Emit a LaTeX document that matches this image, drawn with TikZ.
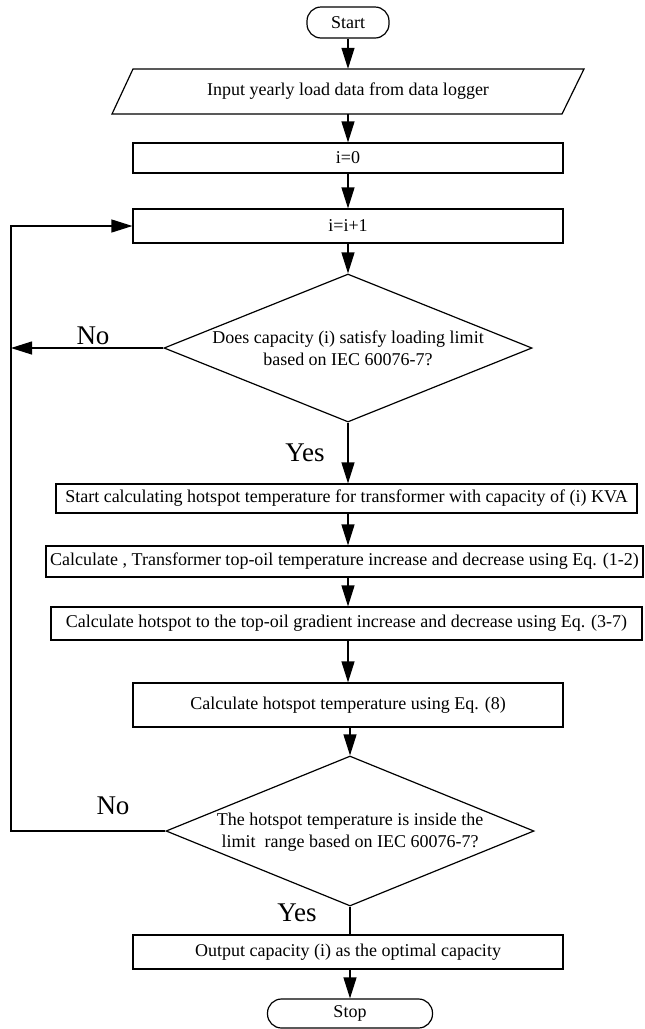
\documentclass[tikz,border=0pt]{standalone}
\usepackage{fontspec}
\setmainfont{Liberation Serif}
\usetikzlibrary{arrows.meta,shapes.geometric,calc}
\begin{document}
\begin{tikzpicture}[x=1pt,y=-1pt,
  every node/.style={font=\fontsize{18}{22}\selectfont},
  box/.style={draw, line width=1.2pt, inner sep=0pt, align=center},
  term/.style={draw, line width=1.2pt, rounded corners=14pt, inner sep=0pt},
  dia/.style={draw, diamond, line width=1.2pt, inner sep=0pt},
  arr/.style={line width=1.2pt, -{Triangle[length=21pt,width=13pt]}},
  ln/.style={line width=1.2pt},
  lbl/.style={font=\fontsize{27}{30}\selectfont, inner sep=0pt}]
\useasboundingbox (0,0) rectangle (645,1029);

\coordinate (L) at (11,0);

\node[term, minimum width=82pt, minimum height=31pt] (start) at (348,22.5) {Start};
\node[inner sep=0pt, minimum width=430pt, minimum height=45pt] (in) at (348,91.5) {Input yearly load data from data logger};
\draw[ln] ($(in.center)+(-215,-22.5)$) -- ($(in.center)+(236,-22.5)$) -- ($(in.center)+(214,22.5)$) -- ($(in.center)+(-236,22.5)$) -- cycle;
\node[box, minimum width=430pt, minimum height=30pt] (i0) at (348,158) {i=0};
\node[box, minimum width=430pt, minimum height=34pt] (inc) at (348,226) {i=i+1};
\node[dia, minimum width=368pt, minimum height=148pt] (d1) at (348,348) {};
\node[align=center, inner sep=0pt] (d1t) at (348,348) {Does capacity (i) satisfy loading limit\\based on IEC 60076-7?};
\node[box, minimum width=581pt, minimum height=29pt] (b5) at (346.5,498.5) {Start calculating hotspot temperature for transformer with capacity of (i) KVA};
\node[box, minimum width=597pt, minimum height=31pt] (b6) at (344.5,561.5) {Calculate , Transformer top-oil temperature increase and decrease using Eq. (1-2)};
\node[box, minimum width=591pt, minimum height=33pt] (b7) at (346.5,623.5) {Calculate hotspot to the top-oil gradient increase and decrease using Eq. (3-7)};
\node[box, minimum width=430pt, minimum height=44pt] (b8) at (348,705) {Calculate hotspot temperature using Eq. (8)};
\node[dia, minimum width=368pt, minimum height=150pt] (d2) at (350,831) {};
\node[align=center, inner sep=0pt] (d2t) at (350,832) {The hotspot temperature is inside the\\limit~ range based on IEC 60076-7?};
\node[box, minimum width=430pt, minimum height=34pt] (b9) at (348,952) {Output capacity (i) as the optimal capacity};
\node[term, minimum width=165pt, minimum height=29pt] (stop) at (350,1013.5) {Stop};

\node[lbl] (no1) at (93,336) {No};
\node[lbl] (yes1) at (305,453) {Yes};
\node[lbl] (no2) at (113,806) {No};
\node[lbl] (yes2) at (297,913) {Yes};

\draw[arr] (start.south) -- (in.north);
\draw[arr] (in.south) -- (i0.north);
\draw[arr] (i0.south) -- (inc.north);
\draw[arr] (inc.south) -- (d1.north);
\draw[arr] (d1.west) -- (d1.west -| L);
\draw[arr] (d1.south) -- (d1.south |- b5.north);
\draw[arr] (b5.south -| d1.south) -- (b6.north -| d1.south);
\draw[arr] (b6.south -| d1.south) -- (b7.north -| d1.south);
\draw[arr] (b7.south -| d1.south) -- (b8.north -| d1.south);
\draw[arr] (b8.south -| d2.north) -- (d2.north);
\draw[arr] (d2.west) -- (d2.west -| L) -- (inc.west -| L) -- (inc.west);
\draw[ln] (d2.south) -- (d2.south |- b9.north);
\draw[arr] (b9.south -| stop.north) -- (stop.north);
\end{tikzpicture}
\end{document}
